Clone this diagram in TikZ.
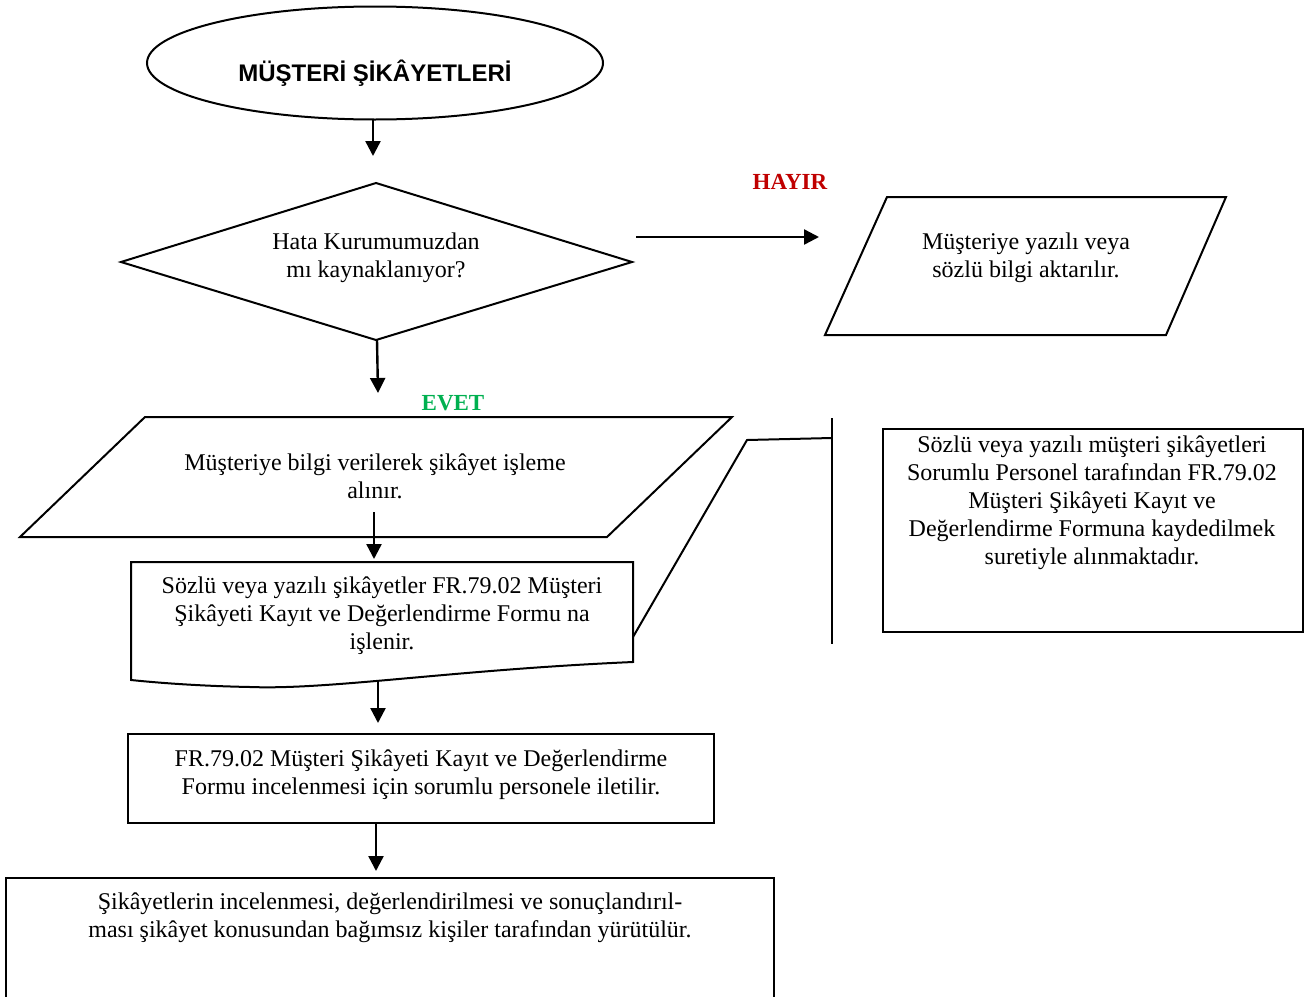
\documentclass[tikz,border=0pt]{standalone}
\usepackage{fontspec}
\setmainfont{Liberation Serif}
\newfontfamily\titlefont{Liberation Sans}
\usetikzlibrary{arrows.meta}
\definecolor{hayirred}{HTML}{C00000}
\definecolor{evetgreen}{HTML}{00B050}
\begin{document}
\begin{tikzpicture}[x=1pt,y=-1pt,
  shapeline/.style={draw=black,line width=2pt,line join=miter},
  flow/.style={line width=2.4pt,-{Triangle[length=15pt,width=15pt]}},
  txt/.style={align=center,font=\fontsize{24}{28}\selectfont,inner sep=0pt},
  lbl/.style={font=\fontsize{23}{26}\selectfont\bfseries,inner sep=0pt}]
\useasboundingbox (0,0) rectangle (1309,996);
\clip (0,0) rectangle (1309,996);
% start ellipse
\draw[shapeline] (375,63) ellipse [x radius=228pt, y radius=56.5pt];
\node[inner sep=0pt,font=\titlefont\fontsize{24}{28}\selectfont\bfseries] (start) at (375,73) {MÜŞTERİ ŞİKÂYETLERİ};
\coordinate (a1s) at (373,120);
\coordinate (a1e) at (373,156);
\draw[flow] (a1s) -- (a1e);
% decision diamond
\draw[shapeline] (121,262) -- (376,183) -- (632,262) -- (376,340) -- cycle;
\node[txt] (dec) at (376,258) {Hata Kurumumuzdan\\mı kaynaklanıyor?};
\coordinate (a2s) at (636,237);
\coordinate (a2e) at (819,237);
\draw[flow] (a2s) -- (a2e);
\node[lbl,text=hayirred] (hayir) at (790,182) {HAYIR};
% right parallelogram
\draw[shapeline] (887,197) -- (1226,197) -- (1166,335) -- (825,335) -- cycle;
\node[txt] (info) at (1026,258) {Müşteriye yazılı veya\\sözlü bilgi aktarılır.};
% evet
\coordinate (a3s) at (377,340);
\coordinate (a3e) at (378,393);
\draw[flow] (a3s) -- (a3e);
\node[lbl,text=evetgreen] (evet) at (453,403) {EVET};
% parallelogram 2
\draw[shapeline] (145,417) -- (732,417) -- (607,537) -- (20,537) -- cycle;
\node[txt] (take) at (375,476) {Müşteriye bilgi verilerek şikâyet işleme\\alınır.};
\coordinate (a4s) at (374,512);
\coordinate (a4e) at (374,559);
\draw[flow] (a4s) -- (a4e);
% document shape
\draw[shapeline] (131,562) -- (633,562) -- (633,662)
  .. controls (450,670) and (330,690) .. (250,687)
  .. controls (200,686) and (160,683) .. (131,680) -- cycle;
\node[txt] (doc) at (382,616) {Sözlü veya yazılı şikâyetler FR.79.02 Müşteri\\Şikâyeti Kayıt ve Değerlendirme Formu na\\işlenir.};
\coordinate (a5s) at (378,680);
\coordinate (a5e) at (378,723);
\draw[flow] (a5s) -- (a5e);
% rect 1
\draw[shapeline] (128,734) rectangle (714,823);
\node[txt] (fwd) at (421,775) {FR.79.02 Müşteri Şikâyeti Kayıt ve Değerlendirme\\Formu incelenmesi için sorumlu personele iletilir.};
\coordinate (a6s) at (376,823);
\coordinate (a6e) at (376,871);
\draw[flow] (a6s) -- (a6e);
% bottom rect
\draw[shapeline] (6,878) rectangle (774,1010);
\node[txt] (last) at (390,918) {Şikâyetlerin incelenmesi, değerlendirilmesi ve sonuçlandırıl-\\ması şikâyet konusundan bağımsız kişiler tarafından yürütülür.};
% annotation
\coordinate (n1) at (633,637);
\coordinate (n2) at (747,440);
\coordinate (n3) at (832,438);
\draw[shapeline] (n1) -- (n2) -- (n3);
\coordinate (bt) at (832,418);
\coordinate (bb) at (832,644);
\draw[shapeline] (bt) -- (bb);
\draw[shapeline] (883,429) rectangle (1303,632);
\node[txt] (note) at (1092,503) {Sözlü veya yazılı müşteri şikâyetleri\\Sorumlu Personel tarafından FR.79.02\\Müşteri Şikâyeti Kayıt ve\\Değerlendirme Formuna kaydedilmek\\suretiyle alınmaktadır.};
\end{tikzpicture}
\end{document}
